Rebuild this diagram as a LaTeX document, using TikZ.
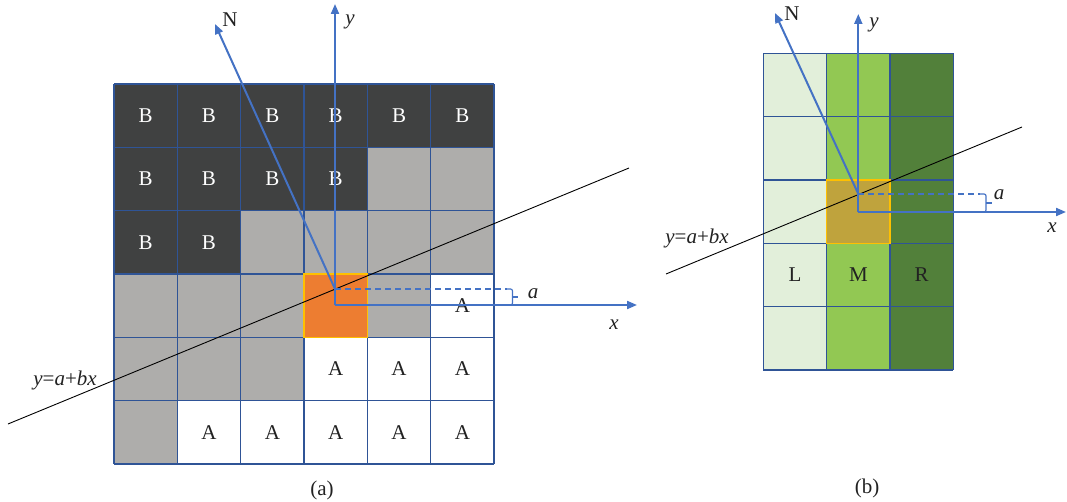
\documentclass[tikz,border=0pt]{standalone}
\usepackage{fontspec}
\setmainfont{Liberation Serif}
\usetikzlibrary{arrows.meta}
\definecolor{gridblue}{HTML}{2F5496}
\definecolor{axisblue}{HTML}{4472C4}
\definecolor{darkB}{HTML}{404141}
\definecolor{midgray}{HTML}{AEADAB}
\definecolor{orangeC}{HTML}{ED7D31}
\definecolor{goldC}{HTML}{FFC000}
\definecolor{lightG}{HTML}{E2EFDA}
\definecolor{midG}{HTML}{92C853}
\definecolor{darkG}{HTML}{52803A}
\definecolor{oliveC}{HTML}{BFA33D}
\definecolor{textK}{HTML}{222222}
\begin{document}
\begin{tikzpicture}[x=1pt,y=-1pt,
  lab/.style={font=\fontsize{21}{21}\selectfont, text=textK, inner sep=0pt},
  cellbase/.style={minimum size=63.33pt, inner sep=0pt, font=\fontsize{21}{21}\selectfont},
  cellD/.style={cellbase, fill=darkB, text=white},
  cellG/.style={cellbase, fill=midgray},
  cellO/.style={cellbase, fill=orangeC},
  cellW/.style={cellbase, fill=white, text=textK},
  cellL/.style={cellbase, fill=lightG, text=textK},
  cellM/.style={cellbase, fill=midG, text=textK},
  cellR/.style={cellbase, fill=darkG, text=textK},
  cellH/.style={cellbase, fill=oliveC},
  gridline/.style={draw=gridblue, line width=1.5pt},
  hilite/.style={draw=goldC, line width=1.8pt},
  axis/.style={draw=axisblue, line width=2pt, -{Triangle[length=10pt,width=8pt]}},
  axisthin/.style={draw=axisblue, line width=1.2pt},
  fitline/.style={draw=black, line width=0.9pt}
]
\useasboundingbox (0,0) rectangle (1067,502);
\def\cs{63.333}
\def\txtD{B}\def\txtG{}\def\txtO{}\def\txtW{A}\def\txtH{}
% ---------- (a) ----------
\foreach \row [count=\r from 0] in {{D,D,D,D,D,D},{D,D,D,D,G,G},{D,D,G,G,G,G},{G,G,G,O,G,W},{G,G,G,W,W,W},{G,W,W,W,W,W}} {
  \foreach \t [count=\c from 0] in \row {
    \node[cell\t] (a-\r-\c) at ({114+\cs*(\c+0.5)},{84+\cs*(\r+0.5)}) {\raisebox{-1.5pt}{\csname txt\t\endcsname}};
  }
}
\foreach \i in {0,...,6} {
  \draw[gridline] ({114+\cs*\i},84) -- ({114+\cs*\i},464);
  \draw[gridline] (114,{84+\cs*\i}) -- (494,{84+\cs*\i});
}
\draw[hilite] (a-3-3.south west) rectangle (a-3-3.north east);
\coordinate (aO) at (335,305);
\coordinate (aN0) at (335,289);
\coordinate (aYt) at (335,4);
\coordinate (aXt) at (637,305);
\coordinate (aNt) at (215,24);
\coordinate (aL1) at (8,424);
\coordinate (aL2) at (629,168);
\coordinate (aD) at (507,289);
\draw[fitline] (aL1) -- (aL2);
\draw[axisthin, dash pattern=on 6pt off 4pt] (aN0) -- (aD);
\draw[axisthin, rounded corners=2pt] (aD) -- (512.5,289) -- (512.5,305) -- (507,305);
\draw[axisthin] (512.5,297) -- (518,297);
\draw[axis] (aO) -- (aYt);
\draw[axis, -] (aN0) -- (aO);
\draw[axis] (aO) -- (aXt);
\draw[axis] (aN0) -- (aNt);
\node[lab] (aYl) at (350,22) {\textit{y}};
\node[lab] (aXl) at (614,325) {\textit{x}};
\node[lab] (aNl) at (230,20) {N};
\node[lab] (aal) at (533,294) {\textit{a}};
\node[lab] (aEq) at (65,380) {\textit{y}=\textit{a}+\textit{bx}};
\node[lab] (capa) at (322,490) {(a)};
% ---------- (b) ----------
\foreach \row [count=\r from 0] in {{L,M,R},{L,M,R},{L,H,R},{L,M,R},{L,M,R}} {
  \foreach \t [count=\c from 0] in \row {
    \node[cell\t] (b-\r-\c) at ({763.33+\cs*(\c+0.5)},{53.33+\cs*(\r+0.5)}) {};
  }
}
\foreach \i in {0,...,3} {
  \draw[gridline] ({763.33+\cs*\i},53.33) -- ({763.33+\cs*\i},370);
}
\foreach \i in {0,...,5} {
  \draw[gridline] (763.33,{53.33+\cs*\i}) -- (953.33,{53.33+\cs*\i});
}
\node[lab] (bLl) at (b-3-0) {L};
\node[lab] (bMl) at (b-3-1) {M};
\node[lab] (bRl) at (b-3-2) {R};
\draw[hilite] (b-2-1.south west) rectangle (b-2-1.north east);
\coordinate (bO) at (858.3,212);
\coordinate (bN0) at (858.3,194);
\coordinate (bYt) at (858.3,14);
\coordinate (bXt) at (1066,212);
\coordinate (bNt) at (775,13);
\coordinate (bL1) at (666,274);
\coordinate (bL2) at (1022,127);
\coordinate (bD) at (980,194);
\draw[fitline] (bL1) -- (bL2);
\draw[axisthin, dash pattern=on 6pt off 4pt] (bN0) -- (bD);
\draw[axisthin, rounded corners=2pt] (bD) -- (986,194) -- (986,212) -- (980,212);
\draw[axisthin] (986,203) -- (991.5,203);
\draw[axis] (bO) -- (bYt);
\draw[axis, -] (bN0) -- (bO);
\draw[axis] (bO) -- (bXt);
\draw[axis] (bN0) -- (bNt);
\node[lab] (bYl) at (874,25) {\textit{y}};
\node[lab] (bXl) at (1052,228) {\textit{x}};
\node[lab] (bNl) at (792,14) {N};
\node[lab] (bal) at (999,195) {\textit{a}};
\node[lab] (bEq) at (697,238) {\textit{y}=\textit{a}+\textit{bx}};
\node[lab] (capb) at (867,488) {(b)};
\end{tikzpicture}
\end{document}
